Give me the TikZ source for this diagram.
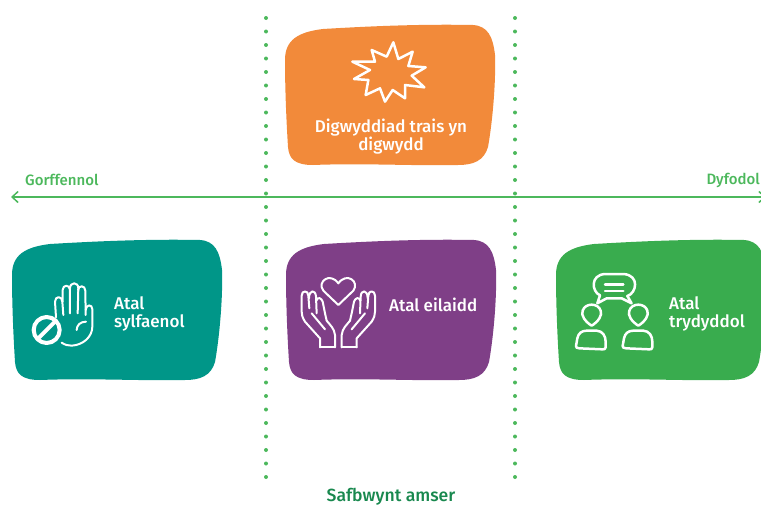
\documentclass[tikz,border=0pt]{standalone}
\usepackage{fontspec}
\setmainfont{Fira Sans Medium}
\usetikzlibrary{arrows.meta}

\definecolor{tealbox}{RGB}{0,150,136}
\definecolor{purplebox}{RGB}{127,63,135}
\definecolor{greenbox}{RGB}{57,172,78}
\definecolor{orangebox}{RGB}{242,138,58}
\definecolor{linegreen}{RGB}{76,184,92}
\definecolor{titlegreen}{RGB}{24,136,78}

\tikzstyle{lbl} = [anchor=west, align=left, text=white, font=\fontsize{17}{18.8}\selectfont, inner sep=0pt]
\tikzstyle{period} = [text=linegreen, font=\fontsize{15}{16}\selectfont, inner sep=0pt]
\tikzstyle{icon} = [draw=white, line width=2.5pt, line join=round, line cap=round]
\tikzstyle{dotline} = [linegreen, line width=4pt, line cap=round, dash pattern=on 0pt off 13.5pt]
\tikzstyle{arrow} = [linegreen, line width=1.5pt, {Straight Barb[length=6pt,width=11pt]}-{Straight Barb[length=6pt,width=11pt]}]

\newcommand{\blob}[3]{
  \fill [#3, shift={(#1,#2)}] (12,275) .. controls (12,255) and (25,247) .. (50,244)
    .. controls (100,241) and (150,239) .. (200,240)
    .. controls (215,241) and (220,252) .. (222,270)
    .. controls (223,300) and (219,340) .. (215,362)
    .. controls (211,376) and (200,380) .. (185,380)
    .. controls (140,381) and (90,378) .. (40,380)
    .. controls (22,380) and (16,374) .. (15,362)
    .. controls (13,330) and (12,300) .. (12,275) -- cycle;
}

\begin{document}
\begin{tikzpicture}[x=1pt, y=-1pt]
    \useasboundingbox (0,0) rectangle (761,506);

    \coordinate (dot1a) at (266,18);
    \coordinate (dot1b) at (266,479);
    \coordinate (dot2a) at (515,18);
    \coordinate (dot2b) at (515,479);
    \coordinate (past) at (11,197);
    \coordinate (future) at (766,197);

    \draw [dotline] (dot1a) -- (dot1b);
    \draw [dotline] (dot2a) -- (dot2b);
    \draw [arrow] (past) -- (future);

    \blob{273}{-215}{orangebox}
    \blob{0}{0}{tealbox}
    \blob{274}{0}{purplebox}
    \blob{544}{0}{greenbox}

    \node (event) [lbl, anchor=center, align=center] at (391,136.5) {Digwyddiad trais yn\\digwydd};
    \node (prim) [lbl] at (114,314) {Atal\\sylfaenol};
    \node (sec) [lbl] at (389,305) {Atal eilaidd};
    \node (tert) [lbl] at (669,314) {Atal\\trydyddol};

    \node (gorff) [period, anchor=west] at (25,180) {Gorffennol};
    \node (dyf) [period, anchor=east] at (760,180) {Dyfodol};
    \node (safb) [period, text=titlegreen, font=\fontsize{17.6}{20}\selectfont] at (391,496.5) {Safbwynt amser};

    \begin{scope}[shift={(270,10)}, scale=1/3]
      \draw [icon] (370,97) -- (385,147) -- (428,125) -- (415,168) -- (467,172) -- (425,197)
        -- (463,232) -- (405,225) -- (405,265) -- (368,240) -- (345,275) -- (330,235)
        -- (287,255) -- (295,210) -- (252,207) -- (300,180) -- (247,155) -- (315,155)
        -- (305,120) -- (350,140) -- cycle;
    \end{scope}

    \begin{scope}[shift={(0,230)}, scale=1/3]
      \draw [icon, line width=2pt] (168,262) -- (165,215) .. controls (165,197) and (187,197) .. (187,215) -- (190,255);
      \draw [icon, line width=2pt] (188,215) -- (188,180) .. controls (188,163) and (210,163) .. (210,180) -- (210,250);
      \draw [icon, line width=2pt] (210,175) .. controls (210,155) and (235,155) .. (235,175) -- (233,250);
      \draw [icon, line width=2pt] (234,180) .. controls (235,165) and (256,165) .. (256,182) -- (257,255);
      \draw [icon, line width=2pt] (257,240) .. controls (258,222) and (277,222) .. (277,238) -- (277,290)
        .. controls (277,320) and (250,345) .. (215,347) .. controls (205,347) and (195,345) .. (185,338);
      \draw [icon, line width=2pt] (258,275) .. controls (242,275) and (230,285) .. (230,300);
      \draw [icon, line width=4pt, fill=tealbox] (140,300) circle (39);
      \draw [icon, line width=4pt] (115,325) -- (165,275);
    \end{scope}

    \begin{scope}[shift={(270,230)}, scale=1/3]
      \draw [icon, line width=2pt] (205,225) -- (160,182) .. controls (140,155) and (180,125) .. (205,160)
        .. controls (230,125) and (270,155) .. (250,182) -- cycle;
      \foreach \s in {1,-1} {
        \begin{scope}[shift={(205,0)}, xscale=\s, icon/.append style={line width=2pt}]
          \draw [icon] (-55,352) -- (-55,325) -- (-100,275) .. controls (-108,262) and (-110,255) .. (-110,245)
            -- (-110,197) .. controls (-110,180) and (-90,180) .. (-90,197) -- (-87,235);
          \draw [icon] (-88,205) .. controls (-88,178) and (-68,178) .. (-67,200) -- (-65,250);
          \draw [icon] (-66,212) .. controls (-62,198) and (-50,205) .. (-47,215) -- (-40,250) -- (-35,272);
          \draw [icon] (-10,352) -- (-10,315) .. controls (-12,295) and (-25,285) .. (-35,272);
          \draw [icon] (-80,250) -- (-40,298);
          \draw [icon] (-55,352) -- (-10,352);
        \end{scope}
      }
    \end{scope}

    \begin{scope}[shift={(540,230)}, scale=1/3]
      \draw [icon] (195,132) -- (250,132) .. controls (300,135) and (290,190) .. (262,198)
        -- (275,220) -- (245,205) -- (200,205) -- (172,220) -- (180,196)
        .. controls (155,185) and (150,135) .. (195,132) -- cycle;
      \draw [icon] (195,163) -- (250,163);
      \draw [icon] (195,183) -- (250,183);
      \foreach \px in {0,140} {
        \begin{scope}[xshift=\px]
          \draw [icon] (155,287) .. controls (135,275) and (122,255) .. (128,242)
            .. controls (135,218) and (175,218) .. (182,242) .. controls (188,255) and (175,275) .. (155,287) -- cycle;
          \draw [icon] (108,348) -- (112,325) .. controls (115,310) and (125,302) .. (140,302)
            -- (170,302) .. controls (188,303) and (197,318) .. (197,335) -- (197,352)
            .. controls (197,358) and (192,358) .. (188,358) -- (118,355) .. controls (110,355) and (108,352) .. (108,348) -- cycle;
        \end{scope}
      }
    \end{scope}
  \end{tikzpicture}
\end{document}
